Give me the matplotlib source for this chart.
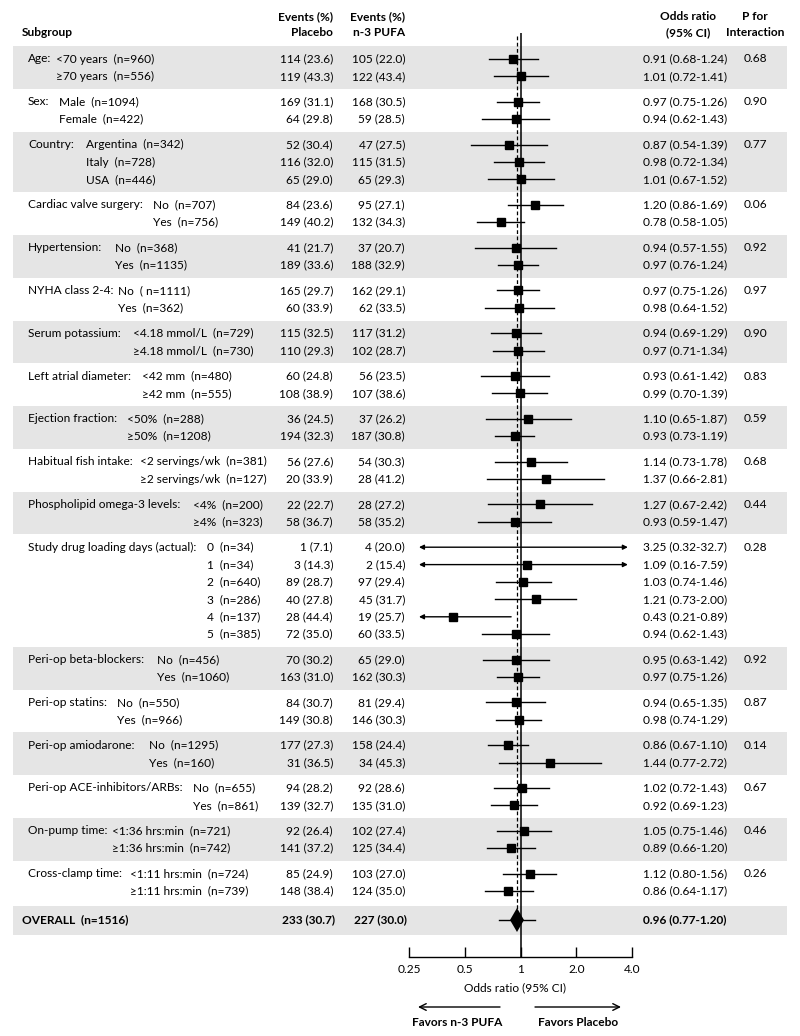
import matplotlib
matplotlib.use("Agg")
import matplotlib.pyplot as plt
import numpy as np

plt.rcParams['font.family'] = ['Lato', 'DejaVu Sans']

# ---------------- data ----------------
group_labels = ["Age:", "Sex:", "Country:", "Cardiac valve surgery:", "Hypertension:",
                "NYHA class 2-4:", "Serum potassium:", "Left atrial diameter:",
                "Ejection fraction:", "Habitual fish intake:", "Phospholipid omega-3 levels:",
                "Study drug loading days (actual):", "Peri-op beta-blockers:", "Peri-op statins:",
                "Peri-op amiodarone:", "Peri-op ACE-inhibitors/ARBs:", "On-pump time:",
                "Cross-clamp time:"]

sub_labels = [
    ["<70 years  (n=960)", "\u226570 years  (n=556)"],
    ["Male  (n=1094)", "Female  (n=422)"],
    ["Argentina  (n=342)", "Italy  (n=728)", "USA  (n=446)"],
    ["No  (n=707)", "Yes  (n=756)"],
    ["No  (n=368)", "Yes  (n=1135)"],
    ["No  ( n=1111)", "Yes  (n=362)"],
    ["<4.18 mmol/L  (n=729)", "\u22654.18 mmol/L  (n=730)"],
    ["<42 mm  (n=480)", "\u226542 mm  (n=555)"],
    ["<50%  (n=288)", "\u226550%  (n=1208)"],
    ["<2 servings/wk  (n=381)", "\u22652 servings/wk  (n=127)"],
    ["<4%  (n=200)", "\u22654%  (n=323)"],
    ["0  (n=34)", "1  (n=34)", "2  (n=640)", "3  (n=286)", "4  (n=137)", "5  (n=385)"],
    ["No  (n=456)", "Yes  (n=1060)"],
    ["No  (n=550)", "Yes  (n=966)"],
    ["No  (n=1295)", "Yes  (n=160)"],
    ["No  (n=655)", "Yes  (n=861)"],
    ["<1:36 hrs:min  (n=721)", "\u22651:36 hrs:min  (n=742)"],
    ["<1:11 hrs:min  (n=724)", "\u22651:11 hrs:min  (n=739)"],
]

placebo_events = [
    ["114 (23.6)", "119 (43.3)"], ["169 (31.1)", "64 (29.8)"],
    ["52 (30.4)", "116 (32.0)", "65 (29.0)"], ["84 (23.6)", "149 (40.2)"],
    ["41 (21.7)", "189 (33.6)"], ["165 (29.7)", "60 (33.9)"],
    ["115 (32.5)", "110 (29.3)"], ["60 (24.8)", "108 (38.9)"],
    ["36 (24.5)", "194 (32.3)"], ["56 (27.6)", "20 (33.9)"],
    ["22 (22.7)", "58 (36.7)"],
    ["1 (7.1)", "3 (14.3)", "89 (28.7)", "40 (27.8)", "28 (44.4)", "72 (35.0)"],
    ["70 (30.2)", "163 (31.0)"], ["84 (30.7)", "149 (30.8)"],
    ["177 (27.3)", "31 (36.5)"], ["94 (28.2)", "139 (32.7)"],
    ["92 (26.4)", "141 (37.2)"], ["85 (24.9)", "148 (38.4)"],
]

pufa_events = [
    ["105 (22.0)", "122 (43.4)"], ["168 (30.5)", "59 (28.5)"],
    ["47 (27.5)", "115 (31.5)", "65 (29.3)"], ["95 (27.1)", "132 (34.3)"],
    ["37 (20.7)", "188 (32.9)"], ["162 (29.1)", "62 (33.5)"],
    ["117 (31.2)", "102 (28.7)"], ["56 (23.5)", "107 (38.6)"],
    ["37 (26.2)", "187 (30.8)"], ["54 (30.3)", "28 (41.2)"],
    ["28 (27.2)", "58 (35.2)"],
    ["4 (20.0)", "2 (15.4)", "97 (29.4)", "45 (31.7)", "19 (25.7)", "60 (33.5)"],
    ["65 (29.0)", "162 (30.3)"], ["81 (29.4)", "146 (30.3)"],
    ["158 (24.4)", "34 (45.3)"], ["92 (28.6)", "135 (31.0)"],
    ["102 (27.4)", "125 (34.4)"], ["103 (27.0)", "124 (35.0)"],
]

odds_ratio = [
    [0.91, 1.01], [0.97, 0.94], [0.87, 0.98, 1.01], [1.20, 0.78], [0.94, 0.97],
    [0.97, 0.98], [0.94, 0.97], [0.93, 0.99], [1.10, 0.93], [1.14, 1.37],
    [1.27, 0.93], [3.25, 1.09, 1.03, 1.21, 0.43, 0.94], [0.95, 0.97],
    [0.94, 0.98], [0.86, 1.44], [1.02, 0.92], [1.05, 0.89], [1.12, 0.86],
]
ci_low = [
    [0.68, 0.72], [0.75, 0.62], [0.54, 0.72, 0.67], [0.86, 0.58], [0.57, 0.76],
    [0.75, 0.64], [0.69, 0.71], [0.61, 0.70], [0.65, 0.73], [0.73, 0.66],
    [0.67, 0.59], [0.32, 0.16, 0.74, 0.73, 0.21, 0.62], [0.63, 0.75],
    [0.65, 0.74], [0.67, 0.77], [0.72, 0.69], [0.75, 0.66], [0.80, 0.64],
]
ci_high = [
    [1.24, 1.41], [1.26, 1.43], [1.39, 1.34, 1.52], [1.69, 1.05], [1.55, 1.24],
    [1.26, 1.52], [1.29, 1.34], [1.42, 1.39], [1.87, 1.19], [1.78, 2.81],
    [2.42, 1.47], [32.7, 7.59, 1.46, 2.00, 0.89, 1.43], [1.42, 1.26],
    [1.35, 1.29], [1.10, 2.72], [1.43, 1.23], [1.46, 1.20], [1.56, 1.17],
]
or_text = [
    ["0.91 (0.68-1.24)", "1.01 (0.72-1.41)"], ["0.97 (0.75-1.26)", "0.94 (0.62-1.43)"],
    ["0.87 (0.54-1.39)", "0.98 (0.72-1.34)", "1.01 (0.67-1.52)"],
    ["1.20 (0.86-1.69)", "0.78 (0.58-1.05)"], ["0.94 (0.57-1.55)", "0.97 (0.76-1.24)"],
    ["0.97 (0.75-1.26)", "0.98 (0.64-1.52)"], ["0.94 (0.69-1.29)", "0.97 (0.71-1.34)"],
    ["0.93 (0.61-1.42)", "0.99 (0.70-1.39)"], ["1.10 (0.65-1.87)", "0.93 (0.73-1.19)"],
    ["1.14 (0.73-1.78)", "1.37 (0.66-2.81)"], ["1.27 (0.67-2.42)", "0.93 (0.59-1.47)"],
    ["3.25 (0.32-32.7)", "1.09 (0.16-7.59)", "1.03 (0.74-1.46)", "1.21 (0.73-2.00)",
     "0.43 (0.21-0.89)", "0.94 (0.62-1.43)"],
    ["0.95 (0.63-1.42)", "0.97 (0.75-1.26)"], ["0.94 (0.65-1.35)", "0.98 (0.74-1.29)"],
    ["0.86 (0.67-1.10)", "1.44 (0.77-2.72)"], ["1.02 (0.72-1.43)", "0.92 (0.69-1.23)"],
    ["1.05 (0.75-1.46)", "0.89 (0.66-1.20)"], ["1.12 (0.80-1.56)", "0.86 (0.64-1.17)"],
]
p_interaction = ["0.68", "0.90", "0.77", "0.06", "0.92", "0.97", "0.90", "0.83", "0.59",
                 "0.68", "0.44", "0.28", "0.92", "0.87", "0.14", "0.67", "0.46", "0.26"]

# point markers not shown in the original for these (group, row) entries
hidden_points = {(11, 0)}

overall_label = "OVERALL  (n=1516)"
overall_placebo = "233 (30.7)"
overall_pufa = "227 (30.0)"
overall_or = 0.96
overall_low = 0.77
overall_high = 1.20
overall_text = "0.96 (0.77-1.20)"

tick_values = [0.25, 0.5, 1, 2.0, 4.0]
tick_labels = ["0.25", "0.5", "1", "2.0", "4.0"]

# ---------------- layout ----------------
W, H = 800, 1036
FS = 8.6
sub_x = [50, 59, 86, 153, 115, 118, 133, 142, 127, 267, 263, 207, 157, 117, 149, 193, 104, 130]
sub_ha = ['left'] * 9 + ['right', 'right'] + ['left'] * 7

fig = plt.figure(figsize=(W / 100, H / 100), dpi=100)
ax = fig.add_axes([0, 0, 1, 1])
ax.set_xlim(0, W)
ax.set_ylim(H, 0)
ax.axis('off')
renderer = fig.canvas.get_renderer()

AX_TOP, AX_BOT = 33, 957
X_LEFT, X_RIGHT = 409, 632
axf = fig.add_axes([X_LEFT / W, (H - AX_BOT) / H, (X_RIGHT - X_LEFT) / W, (AX_BOT - AX_TOP) / H])
axf.set_xscale('log', base=2)
axf.set_xlim(tick_values[0], tick_values[-1])
axf.set_ylim(AX_BOT, AX_TOP)
axf.patch.set_alpha(0)
for s in ['left', 'right', 'top']:
    axf.spines[s].set_visible(False)
axf.spines['bottom'].set_linewidth(1.0)
axf.set_yticks([])
axf.set_xticks(tick_values)
axf.set_xticklabels(tick_labels)
axf.xaxis.set_minor_locator(matplotlib.ticker.NullLocator())
axf.tick_params(axis='x', direction='in', length=7.5, width=1.0, pad=5, labelsize=FS)

# row positions
y_first = 59.0
step_in = 17.4
step_between = 25.4
row_y = []
y = y_first
for gi, subs in enumerate(sub_labels):
    ys = []
    for ri in range(len(subs)):
        ys.append(y)
        if ri < len(subs) - 1:
            y += step_in
    row_y.append(ys)
    y += step_between
overall_y = row_y[-1][-1] + 29

GREY = '#e5e5e5'
BAND_L, BAND_R = 13, 787
half = step_between / 2
for gi, ys in enumerate(row_y):
    if gi % 2 == 0:
        ax.barh((ys[0] + ys[-1]) / 2, BAND_R - BAND_L, left=BAND_L,
                height=(ys[-1] - ys[0]) + 2 * half, color=GREY, zorder=0)
ax.barh(overall_y + 0.5, BAND_R - BAND_L, left=BAND_L, height=29, color=GREY, zorder=0)

# headers
hdr = dict(fontsize=FS, fontweight='bold', va='center')
ax.text(22, 33, "Subgroup", ha='left', **hdr)
ax.text(333, 17, "Events (%)", ha='right', **hdr)
ax.text(333, 33, "Placebo", ha='right', **hdr)
ax.text(405, 17, "Events (%)", ha='right', **hdr)
ax.text(405, 33, "n-3 PUFA", ha='right', **hdr)
ax.text(688, 17, "Odds ratio", ha='center', **hdr)
ax.text(688, 33, "(95% CI)", ha='center', **hdr)
ax.text(755, 17, "P for", ha='center', **hdr)
ax.text(755, 33, "Interaction", ha='center', **hdr)

# reference lines
axf.axvline(1, color='black', lw=1.1, zorder=2)
axf.plot([overall_or, overall_or], [36, overall_y], color='black', lw=0.9,
         linestyle=(0, (3, 2)), zorder=2)


def px_width(t):
    bb = t.get_window_extent(renderer=renderer)
    return bb.width


CLIP_LO, CLIP_HI = 0.283, 3.8
TRIG_LO, TRIG_HI = 1 / 3, 3.0
txt = dict(fontsize=FS, va='center')
for gi, subs in enumerate(sub_labels):
    ys = row_y[gi]
    gt = ax.text(28, ys[0], group_labels[gi], ha='left', **txt)
    g_right = 28 + px_width(gt)
    ax.text(755, ys[0], p_interaction[gi], ha='center', **txt)
    sub_texts = [ax.text(sub_x[gi], ys[ri], lab, ha=sub_ha[gi], **txt)
                 for ri, lab in enumerate(subs)]
    # keep sub-labels clear of the group label
    if sub_ha[gi] == 'left':
        left_edge = sub_x[gi]
    else:
        left_edge = sub_x[gi] - px_width(sub_texts[0])
    shift = max(0, g_right + 5 - left_edge)
    if shift > 0:
        for t in sub_texts:
            t.set_x(t.get_position()[0] + shift)
    for ri, lab in enumerate(subs):
        yy = ys[ri]
        ax.text(333, yy, placebo_events[gi][ri], ha='right', **txt)
        ax.text(405, yy, pufa_events[gi][ri], ha='right', **txt)
        ax.text(643, yy, or_text[gi][ri], ha='left', **txt)
        lo, hi, orv = ci_low[gi][ri], ci_high[gi][ri], odds_ratio[gi][ri]
        left_arrow = lo < TRIG_LO
        right_arrow = hi > TRIG_HI
        x0 = CLIP_LO if left_arrow else lo
        x1 = CLIP_HI if right_arrow else hi
        if left_arrow and right_arrow:
            style = '<|-|>'
        elif left_arrow:
            style = '<|-'
        elif right_arrow:
            style = '-|>'
        else:
            style = None
        if style:
            axf.annotate('', xy=(x1, yy), xytext=(x0, yy),
                         arrowprops=dict(arrowstyle=style, color='black', lw=1.0,
                                         mutation_scale=7, shrinkA=0, shrinkB=0),
                         annotation_clip=False)
        else:
            axf.plot([x0, x1], [yy, yy], color='black', lw=1.0, clip_on=False, zorder=3)
        if (gi, ri) not in hidden_points:
            axf.plot([orv], [yy], marker='s', ms=6.2, color='black', clip_on=False, zorder=4)

# overall row
bold = dict(fontsize=FS, fontweight='bold')
ax.text(22, overall_y, overall_label, ha='left', va='center', **bold)
ax.text(335, overall_y, overall_placebo, ha='right', va='center', **bold)
ax.text(407, overall_y, overall_pufa, ha='right', va='center', **bold)
ax.text(643, overall_y, overall_text, ha='left', va='center', **bold)
axf.plot([overall_low, overall_high], [overall_y, overall_y], color='black', lw=1.0,
         clip_on=False, zorder=3)
axf.plot([overall_or], [overall_y], marker='d', ms=12.5, mew=0, color='black',
         clip_on=False, zorder=4)

# axis title and favors arrows
ax.text(515, 988, "Odds ratio (95% CI)", ha='center', va='center', fontsize=FS)
ax.annotate('', xy=(418, 1007), xytext=(500, 1007),
            arrowprops=dict(arrowstyle='->', color='black', lw=1.0, mutation_scale=12,
                            shrinkA=0, shrinkB=0))
ax.annotate('', xy=(621, 1007), xytext=(535, 1007),
            arrowprops=dict(arrowstyle='->', color='black', lw=1.0, mutation_scale=12,
                            shrinkA=0, shrinkB=0))
ax.text(457, 1022, "Favors n-3 PUFA", ha='center', va='center', **bold)
ax.text(578, 1022, "Favors Placebo", ha='center', va='center', **bold)

fig.savefig("out.png", dpi=100)
